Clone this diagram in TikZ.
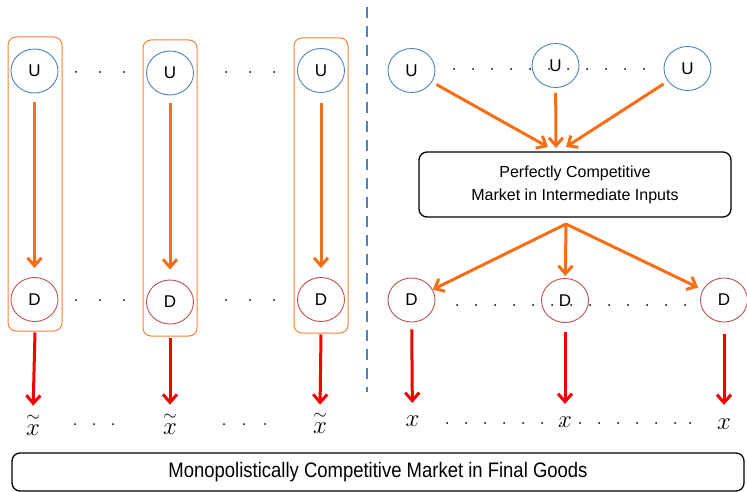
\documentclass[tikz,border=0pt]{standalone}
\usepackage{fontspec}
\setmainfont{Liberation Sans}
\usepackage{amsmath}
\usetikzlibrary{shapes.geometric,arrows.meta,calc}
\definecolor{uBlue}{RGB}{79,129,189}
\definecolor{dRed}{RGB}{192,80,77}
\definecolor{arrOrange}{RGB}{247,110,20}
\definecolor{boxOrange}{RGB}{247,130,50}
\definecolor{arrRed}{RGB}{245,0,0}
\definecolor{dashBlue}{RGB}{79,129,189}
\newcommand{\xtil}{\ensuremath{\overset{\raisebox{-3.5pt}{$\scriptstyle\sim$}}{x}}}
\begin{document}
\begin{tikzpicture}[x=1pt,y=-1pt,
  unode/.style={ellipse,draw=uBlue,line width=0.9pt,minimum width=47pt,minimum height=44pt,inner sep=0pt,font=\fontsize{17}{17}\selectfont},
  dnode/.style={ellipse,draw=dRed,line width=0.9pt,minimum width=47pt,minimum height=44pt,inner sep=0pt,font=\fontsize{17}{17}\selectfont},
  firmbox/.style={draw=boxOrange,line width=1pt,rounded corners=8pt,inner sep=0pt},
  oarr/.style={draw=arrOrange,line width=3pt,-{Straight Barb[length=8pt,width=14pt,line width=3pt]}},
  rarr/.style={draw=arrRed,line width=3pt,-{Straight Barb[length=8pt,width=14pt,line width=3pt]}},
  mkt/.style={draw=black,line width=1.3pt,rounded corners=8pt,align=center,inner sep=0pt},
  xlab/.style={font=\fontsize{25}{25}\selectfont,inner sep=0pt},
  dotm/.style={fill=black}
]
\useasboundingbox (0,0) rectangle (747,492);

% dashed separator
\draw[dashBlue,line width=2.2pt,dash pattern=on 11pt off 8pt] (367,7) -- (367,392);

% ---------- left side ----------
\node[firmbox,minimum width=54pt,minimum height=294pt] (box1) at (35,184) {};
\node[firmbox,minimum width=54pt,minimum height=296pt] (box2) at (170,188) {};
\node[firmbox,minimum width=54pt,minimum height=295pt] (box3) at (321,185.5) {};

\node[unode] (ul1) at (34.5,71) {U};
\node[unode] (ul2) at (170,73) {U};
\node[unode] (ul3) at (321,70.5) {U};
\node[dnode] (dl1) at (34.5,299.5) {D};
\node[dnode] (dl2) at (170,302) {D};
\node[dnode] (dl3) at (321,299.5) {D};

\node[xlab] (xl1) at (33,424) {\xtil};
\node[xlab] (xl2) at (170,423) {\xtil};
\node[xlab] (xl3) at (320,422) {\xtil};

\draw[oarr,shorten <=9pt,shorten >=9pt] (ul1) -- (dl1);
\draw[oarr,shorten <=8pt,shorten >=10pt] (ul2) -- (dl2);
\draw[oarr,shorten <=10pt,shorten >=9pt] (ul3) -- (dl3);

\draw[rarr,shorten <=1pt,shorten >=7pt] (box1.south) -- (xl1.north);
\draw[rarr,shorten <=1pt,shorten >=7pt] (box2.south) -- (xl2.north);
\draw[rarr,shorten <=1pt,shorten >=6pt] (box3.south) -- (xl3.north);

\foreach \x in {76,100,124,226,250,274}{
  \fill[dotm] (\x,72) circle (1pt);
  \fill[dotm] (\x,300) circle (1pt);
}
\foreach \x in {75,94,113,224,244,265}{
  \fill[dotm] (\x,424) circle (1pt);
}

% ---------- right side ----------
\foreach \x in {454,473,492,511,530,549,568,587,606,625,644}{
  \fill[dotm] (\x,69) circle (1pt);
}
\foreach \x in {457,476,495,514,533,552,571,590,609,628,647,666,685}{
  \fill[dotm] (\x,305) circle (1pt);
}
\foreach \x in {447,466,485,504,523,542,561,580,599,618,637,656,675,690}{
  \fill[dotm] (\x,423) circle (1pt);
}

\node[unode] (ur1) at (411.5,70.5) {U};
\node[unode] (ur2) at (555.5,65.5) {U};
\node[unode] (ur3) at (687.5,68.5) {U};

\node[mkt,minimum width=312pt,minimum height=65pt,font=\fontsize{16}{23}\selectfont] (pcm) at (575,184.5)
  {Perfectly Competitive\\Market in Intermediate Inputs};

\coordinate (in1) at (548,147);
\coordinate (in2) at (556,148);
\coordinate (in3) at (566,147);
\coordinate (out) at (566,224);

\draw[oarr,shorten <=5pt] (ur1) -- (in1);
\draw[oarr,shorten <=5pt] (ur2) -- (in2);
\draw[oarr,shorten <=5pt] (ur3) -- (in3);

\node[dnode] (dr1) at (411.5,300) {D};
\node[dnode] (dr2) at (565,300.5) {D};
\node[dnode] (dr3) at (724,300) {D};

\draw[oarr] (out) -- (dr1);
\draw[oarr,shorten >=2pt] (out) -- (dr2);
\draw[oarr,shorten >=5pt] (out) -- (dr3);

\node[xlab] (xr1) at (412.5,421.5) {$x$};
\node[xlab] (xr2) at (565,422.5) {$x$};
\node[xlab] (xr3) at (724,424.5) {$x$};

\draw[rarr,shorten <=7pt,shorten >=13pt] (dr1) -- (xr1);
\draw[rarr,shorten <=9pt,shorten >=13pt] (dr2) -- (xr2);
\draw[rarr,shorten <=12pt,shorten >=14pt] (dr3) -- (xr3);

% ---------- bottom market ----------
\node[mkt,minimum width=732pt,minimum height=38pt,font=\fontsize{21}{21}\selectfont] (mcm) at (378,472)
  {\scalebox{0.88}[1]{Monopolistically Competitive Market in Final Goods}};
\end{tikzpicture}
\end{document}
